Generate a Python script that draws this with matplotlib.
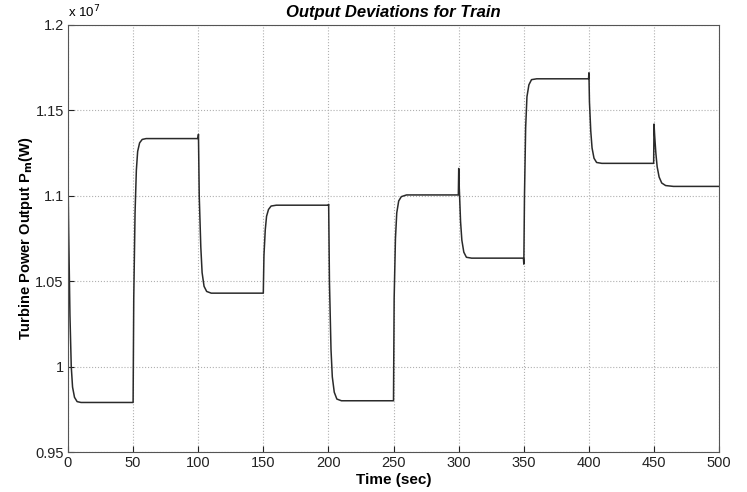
import matplotlib
matplotlib.use("Agg")
import matplotlib.pyplot as plt
import numpy as np

# turbine power output (units of 1e7 W), vertices
t = [0, 0.5, 1.5, 2.5, 3.5, 5, 7, 10,
     50, 50.5, 51.5, 52.5, 53.5, 55, 57, 60,
     99.8, 100.2, 100.8, 102, 103, 104.5, 106.5, 110,
     150, 150.5, 151.5, 152.5, 154, 156, 160,
     200, 200.2, 200.8, 202, 203, 204.5, 206.5, 210,
     250, 250.5, 251.5, 252.5, 254, 256, 260,
     299.8, 300.1, 300.5, 301.5, 302.5, 304, 306, 310,
     349.8, 350.1, 350.6, 351.5, 352.5, 354, 356, 360,
     399.8, 400.1, 400.5, 401.5, 402.5, 404, 406, 410,
     449.8, 450.1, 450.6, 451.5, 452.5, 454, 456, 459, 465, 500]
p = [1.112, 1.08, 1.03, 1.0, 0.988, 0.982, 0.9795, 0.979,
     0.979, 1.04, 1.09, 1.115, 1.126, 1.131, 1.133, 1.1335,
     1.1335, 1.136, 1.10, 1.07, 1.055, 1.047, 1.044, 1.043,
     1.043, 1.065, 1.08, 1.088, 1.092, 1.094, 1.0945,
     1.0945, 1.095, 1.05, 1.01, 0.994, 0.985, 0.981, 0.980,
     0.980, 1.04, 1.075, 1.09, 1.097, 1.0995, 1.1005,
     1.1005, 1.116, 1.105, 1.085, 1.074, 1.067, 1.064, 1.0635,
     1.0635, 1.060, 1.10, 1.14, 1.158, 1.165, 1.168, 1.1685,
     1.1685, 1.172, 1.155, 1.138, 1.128, 1.122, 1.1195, 1.119,
     1.119, 1.142, 1.135, 1.125, 1.117, 1.111, 1.1075, 1.106, 1.1055, 1.1055]

xticks = [0, 50, 100, 150, 200, 250, 300, 350, 400, 450, 500]
yticks = [0.95, 1.0, 1.05, 1.1, 1.15, 1.2]

plt.rcParams['font.family'] = ['Liberation Sans', 'DejaVu Sans']

fig = plt.figure(figsize=(7.47, 4.92), dpi=100)
ax = fig.add_axes([68/747, 1-452/492, 651/747, 427/492])

ax.plot(t, p, color='#2a2a2a', lw=1.1)

ax.set_xlim(0, 500)
ax.set_ylim(0.95, 1.2)
ax.set_xticks(xticks)
ax.set_yticks(yticks)
ax.set_yticklabels(['%g' % v for v in yticks])
ax.tick_params(direction='in', labelsize=10.5, length=4, pad=3, colors='#222222')
ax.grid(True, linestyle=':', color='#b0b0b0', lw=0.8)
for s in ax.spines.values():
    s.set_color('#555555')

ax.set_xlabel('Time (sec)', fontsize=11, fontweight='bold', labelpad=2)
ax.set_ylabel('Turbine Power Output P$_\\mathbf{m}$(W)', fontsize=10.5, fontweight='bold', labelpad=0)
ax.set_title('Output Deviations for Train', fontsize=12, fontweight='bold', style='italic', pad=6)
ax.text(0.0, 1.012, 'x 10$^7$', transform=ax.transAxes, fontsize=9.5, ha='left', va='bottom')

fig.savefig('out.png', dpi=100)
